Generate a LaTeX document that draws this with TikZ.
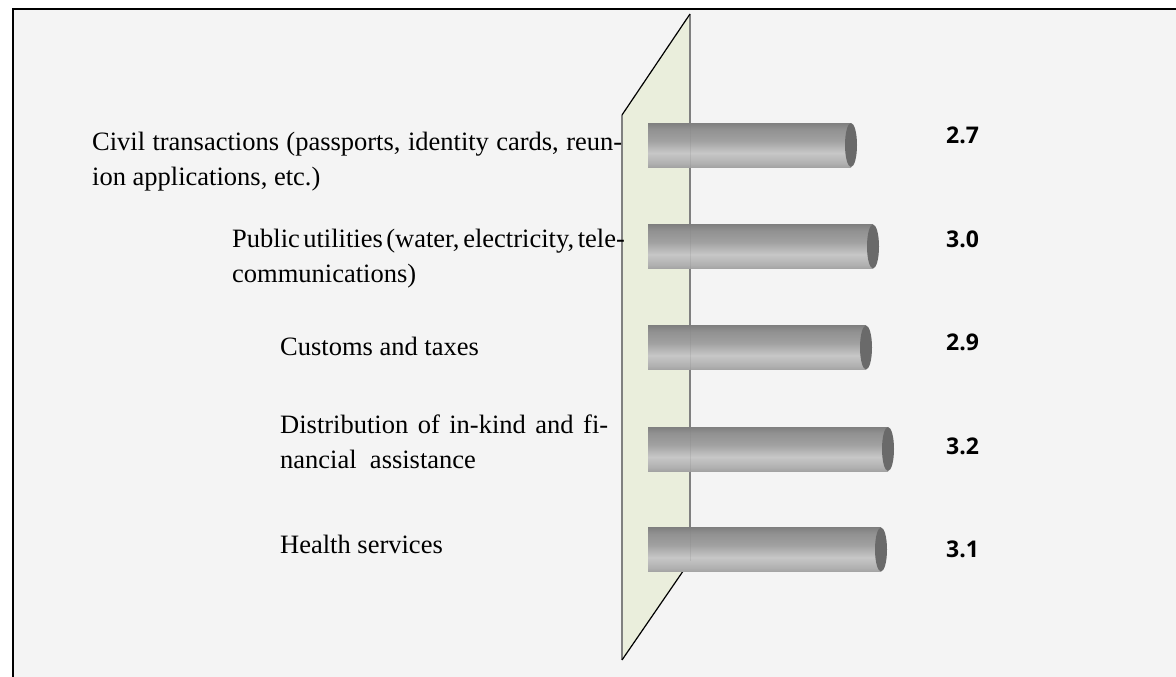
\documentclass[tikz,border=0pt]{standalone}
\usepackage{fontspec}
\setmainfont{Liberation Serif}
\newfontfamily\valfont{Open Sans}

\definecolor{bgcol}{RGB}{244,244,244}
\definecolor{panelcol}{RGB}{234,238,220}
\definecolor{edgecol}{RGB}{128,128,128}
\definecolor{capcol}{RGB}{106,106,106}
\pgfdeclareverticalshading{barshade}{100bp}{rgb(0bp)=(.64,.64,.64); rgb(25bp)=(.64,.64,.64); rgb(29bp)=(.69,.69,.69); rgb(41bp)=(.78,.78,.78); rgb(55bp)=(.63,.63,.63); rgb(68bp)=(.57,.57,.57); rgb(75bp)=(.5,.5,.5); rgb(100bp)=(.5,.5,.5)}

\begin{document}
\begin{tikzpicture}[x=1pt,y=-1pt,
  lbl/.style={anchor=base west,inner sep=0pt,align=left,font=\fontsize{26.5}{35}\selectfont},
  val/.style={anchor=base west,inner sep=0pt,font=\valfont\bfseries\fontsize{23}{28}\selectfont}]
\useasboundingbox (0,0) rectangle (1176,677);
\fill[bgcol] (13,9) rectangle (1176,677);
\draw[line width=2.5pt] (13,677) -- (13,9) -- (1176,9);

% panel behind the bars
\fill[panelcol] (622,115) -- (690,14) -- (690,561) -- (622,660) -- cycle;
\draw[edgecol,line width=1.5pt] (622,115) -- (622,660);
\draw[edgecol,line width=1.5pt] (690,14) -- (690,561);
\draw[line width=1.2pt] (622,115) -- (690,14);
\draw[line width=1.2pt] (622,660) -- (690,561);

% bars and values
\foreach \i/\yc/\xe/\v/\yb in {1/145/857/2.7/143, 2/246.5/879/3.0/247, 3/347.5/872/2.9/350, 4/449/894/3.2/454, 5/549.5/887/3.1/557} {
  \shade[shading=barshade] (648,\yc-22) rectangle (\xe-6,\yc+22);
  \fill[capcol] (\xe-6,\yc) ellipse [x radius=6, y radius=22];
  \node[val] (val\i) at (946,\yb) {\v};
}
\draw[edgecol,opacity=0.2] (690,14) -- (690,561);

% labels (base = last line)
\node[lbl] (lbl1) at (92,185) {\hbox to 530pt{Civil transactions (passports, identity cards, reun-}\\ion applications, etc.)};
\node[lbl] (lbl2) at (232,282) {\hbox to 390pt{\spaceskip=.18em plus .1em minus .05em Public utilities (water, electricity, tele-}\\communications)};
\node[lbl] (lbl3) at (280,355) {Customs and taxes};
\node[lbl] (lbl4) at (280,468) {\hbox to 328pt{Distribution of in-kind and fi-}\\nancial\ \ assistance};
\node[lbl] (lbl5) at (280,553) {Health services};
\end{tikzpicture}
\end{document}
